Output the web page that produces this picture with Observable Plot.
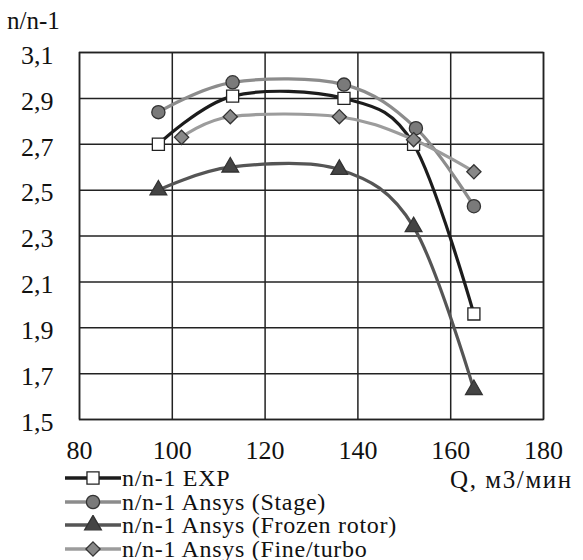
<!DOCTYPE html>
<html>
<head>
<meta charset="utf-8">
<script src="https://cdn.jsdelivr.net/npm/d3@7"></script>
<script src="https://cdn.jsdelivr.net/npm/@observablehq/plot@0.6"></script>
<style>
  body { margin: 0; background: #fff; }
  #wrap { position: relative; width: 583px; height: 560px; color: #111; font-family: "Liberation Serif"; }
  #ylab { position: absolute; left: 7px; top: 8px; font-size: 25px; line-height: 1; }
  #legend { position: relative; height: 92px; }
  .row { position: absolute; left: 65px; height: 23px; display: flex; align-items: center; font-size: 24px; line-height: 1; letter-spacing: 0.7px; white-space: nowrap; }
  .row svg { display: block; }
  #xlab { position: absolute; left: 450px; top: -1px; font-size: 25px; line-height: 1; letter-spacing: 1.6px; white-space: nowrap; }
</style>
</head>
<body>
<div id="wrap">
  <div id="chart"></div>
  <div id="ylab"></div>
  <div id="legend"></div>
</div>
<script>
// ---- data ----
const xTicks = [80, 100, 120, 140, 160, 180];
const yTicks = [1.5, 1.7, 1.9, 2.1, 2.3, 2.5, 2.7, 2.9, 3.1];
const seriesNames = ["n/n-1 EXP", "n/n-1 Ansys (Stage)", "n/n-1 Ansys (Frozen rotor)", "n/n-1 Ansys (Fine/turbo"];
const qExp = [97, 113, 137, 152, 165];
const nExp = [2.70, 2.91, 2.90, 2.70, 1.96];
const qStage = [97, 113, 137, 152.5, 165];
const nStage = [2.84, 2.97, 2.96, 2.77, 2.43];
const qFrozen = [97, 112.5, 136, 152, 165];
const nFrozen = [2.50, 2.60, 2.59, 2.34, 1.63];
const qFine = [102, 112.5, 136, 152, 165];
const nFine = [2.73, 2.82, 2.82, 2.72, 2.58];
const xLabel = "Q, м3/мин";
const yLabel = "n/n-1";

const FONT = '"Liberation Serif"';
document.getElementById("wrap").style.fontFamily = FONT;

const styles = [
  {line: "#1c1c1c", fill: "#ffffff", stroke: "#222222", symbol: "square", r: 6.8},
  {line: "#8c8c8c", fill: "#7a7a7a", stroke: "#333333", symbol: "circle", r: 6.6},
  {line: "#555555", fill: "#444444", stroke: "#333333", symbol: "triangle", r: 6.2},
  {line: "#9c9c9c", fill: "#888888", stroke: "#333333", symbol: "diamond2", r: 6.4}
];
const qs = [qExp, qStage, qFrozen, qFine];
const ns = [nExp, nStage, nFrozen, nFine];
const tables = qs.map((q, i) => q.map((x, j) => ({q: x, n: ns[i][j], s: seriesNames[i]})));

const fmt = d => d3.format(".1f")(d).replace(".", ",");

const marks = [
  Plot.gridX(xTicks, {stroke: "#222", strokeOpacity: 1, strokeWidth: 1.5}),
  Plot.gridY(yTicks, {stroke: "#222", strokeOpacity: 1, strokeWidth: 1.5}),
  Plot.frame({stroke: "#222", strokeWidth: 1.5}),
  Plot.axisX(xTicks, {tickSize: 0, tickPadding: 21, fontSize: 26, label: null, tickFormat: d => String(d)}),
  Plot.axisY(yTicks, {tickSize: 0, tickPadding: 26, fontSize: 26, label: null, tickFormat: fmt, dy: 3})
];
tables.forEach((t, i) => {
  const st = styles[i];
  marks.push(Plot.line(t, {x: "q", y: "n", stroke: st.line, strokeWidth: 3.2, curve: "cardinal", tension: 0}));
  marks.push(Plot.dot(t, {x: "q", y: "n", symbol: () => st.symbol, r: st.r, fill: st.fill, stroke: st.stroke, strokeWidth: 1.3}));
});

const chart = Plot.plot({
  width: 583,
  height: 468,
  marginLeft: 79,
  marginRight: 40,
  marginTop: 52,
  marginBottom: 49,
  style: {background: "#fff", color: "#111"},
  x: {domain: [80, 180]},
  y: {domain: [1.5, 3.1]},
  symbol: {domain: ["square", "circle", "triangle", "diamond2"], range: ["square", "circle", "triangle", "diamond2"]},
  marks
});
chart.setAttribute("font-family", "Liberation Serif");
chart.style.fontFamily = FONT;
chart.querySelectorAll("text, g").forEach(t => { t.setAttribute("font-family", "Liberation Serif"); t.style.fontFamily = FONT; });
document.getElementById("chart").appendChild(chart);
document.getElementById("ylab").textContent = yLabel;

// ---- legend ----
const legend = document.getElementById("legend");
seriesNames.forEach((name, i) => {
  const st = styles[i];
  const row = document.createElement("div");
  row.className = "row";
  row.style.fontFamily = FONT;
  row.style.top = (i * 23.5 - 1.5) + "px";
  const svg = d3.create("svg").attr("width", 57).attr("height", 20);
  svg.append("line").attr("x1", 0).attr("x2", 56).attr("y1", 10).attr("y2", 10)
    .attr("stroke", st.line).attr("stroke-width", 3.5);
  const size = Math.PI * st.r * st.r;
  const sym = {square: d3.symbolSquare, circle: d3.symbolCircle, triangle: d3.symbolTriangle, diamond2: d3.symbolDiamond2}[st.symbol];
  svg.append("path").attr("d", d3.symbol(sym, size)()).attr("transform", "translate(28,10)")
    .attr("fill", st.fill).attr("stroke", st.stroke).attr("stroke-width", 1.3);
  row.appendChild(svg.node());
  const span = document.createElement("span");
  span.textContent = name;
  span.style.fontFamily = FONT;
  row.appendChild(span);
  legend.appendChild(row);
});
const xl = document.createElement("div");
xl.id = "xlab";
xl.style.fontFamily = FONT;
xl.textContent = xLabel;
legend.appendChild(xl);
</script>
</body>
</html>
